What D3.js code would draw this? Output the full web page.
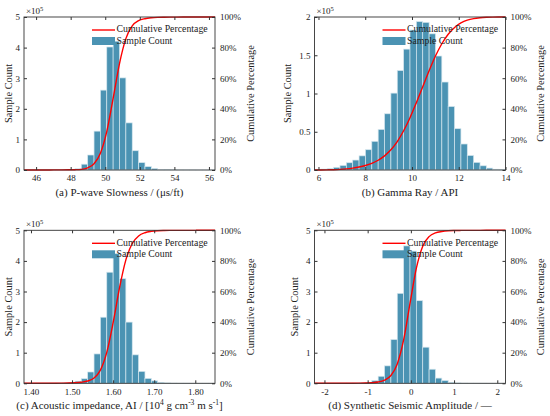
<!DOCTYPE html>
<html>
<head>
<meta charset="utf-8">
<script src="https://cdn.jsdelivr.net/npm/d3@7"></script>
<style>
  body { margin: 0; background: #fff; }
  svg text { font-family: "Liberation Serif", "Times New Roman", Times, "DejaVu Serif", serif; }
</style>
</head>
<body>
<div id="chart"></div>
<script>
// ---- data (counts in units of 1e5, 30 equal bins spanning the x range) ----
const slownessRange = [45.3, 56.35];
const slownessTicks = [46, 48, 50, 52, 54, 56];
const slownessCounts = [0.002, 0.002, 0.002, 0.003, 0.003, 0.004, 0.008, 0.015, 0.04, 0.19,
                        0.49, 1.27, 2.61, 4.02, 4.21, 3.01, 1.54, 0.63, 0.24, 0.11,
                        0.05, 0.02, 0.01, 0.005, 0.003, 0.002, 0.002, 0.001, 0.001, 0.001];

const gammaRange = [5.83, 14.0];
const gammaTicks = [6, 8, 10, 12, 14];
const gammaCounts = [0.008, 0.012, 0.018, 0.035, 0.06, 0.095, 0.13, 0.185, 0.265, 0.375,
                     0.53, 0.735, 1.005, 1.30, 1.58, 1.83, 1.94, 1.93, 1.78, 1.49,
                     1.15, 0.83, 0.54, 0.34, 0.19, 0.10, 0.055, 0.025, 0.01, 0.004];

const impedanceRange = [1.383, 1.848];
const impedanceTicks = [1.40, 1.50, 1.60, 1.70, 1.80];
const impedanceCounts = [0.002, 0.002, 0.002, 0.003, 0.004, 0.006, 0.012, 0.03, 0.07, 0.15,
                         0.37, 0.96, 2.16, 3.63, 4.24, 3.42, 2.0, 0.93, 0.39, 0.16,
                         0.08, 0.03, 0.012, 0.005, 0.003, 0.002, 0.001, 0.001, 0.001, 0.001];

const seismicRange = [-2.23, 2.19];
const seismicTicks = [-2, -1, 0, 1, 2];
const seismicCounts = [0.002, 0.002, 0.002, 0.002, 0.003, 0.004, 0.006, 0.012, 0.03, 0.09,
                       0.23, 0.57, 1.43, 2.94, 4.49, 4.32, 2.70, 1.18, 0.46, 0.17,
                       0.09, 0.03, 0.012, 0.005, 0.003, 0.002, 0.002, 0.001, 0.001, 0.001];

const countTicks5 = [0, 1, 2, 3, 4, 5];
const countTicks2 = [0, 0.5, 1, 1.5, 2];
const pctTicks = [0, 0.2, 0.4, 0.6, 0.8, 1];

// title pieces: [text, isSuperscript]
const titleA = [['(a) P-wave Slowness / (\u03bcs/ft)', false]];
const titleB = [['(b) Gamma Ray / API', false]];
const titleC = [['(c) Acoustic impedance, AI / [10', false], ['4', true], [' g cm', false],
                ['-3', true], [' m s', false], ['-1', true], [']', false]];
const titleD = [['(d) Synthetic Seismic Amplitude / \u2014', false]];

const panels = [
    { range: slownessRange, xTicks: slownessTicks, fmt: d3.format('d'), counts: slownessCounts,
      yMax: 5, yTicks: countTicks5, title: titleA, col: 0, row: 0 },
    { range: gammaRange, xTicks: gammaTicks, fmt: d3.format('d'), counts: gammaCounts,
      yMax: 2, yTicks: countTicks2, title: titleB, col: 1, row: 0 },
    { range: impedanceRange, xTicks: impedanceTicks, fmt: d3.format('.2f'), counts: impedanceCounts,
      yMax: 5, yTicks: countTicks5, title: titleC, col: 0, row: 1 },
    { range: seismicRange, xTicks: seismicTicks, fmt: d => d3.format('d')(d).replace('\u2212', '-'),
      counts: seismicCounts, yMax: 5, yTicks: countTicks5, title: titleD, col: 1, row: 1 }
];

// ---- layout ----
const W = 550, H = 416;
const colLeft = [24, 314.5];
const rowTop = [17, 230.3];
const pw = 191, ph = 153;
const barColor = '#4b93b3';
const axisColor = '#333';
const serif = '"Liberation Serif", "Times New Roman", Times, "DejaVu Serif", serif';

const svg = d3.select('#chart').append('svg')
    .attr('width', W)
    .attr('height', H)
    .attr('font-family', serif);

panels.forEach(p => {
    const left = colLeft[p.col];
    const top = rowTop[p.row];
    const g = svg.append('g').attr('transform', `translate(${left},${top})`);

    const x = d3.scaleLinear().domain(p.range).range([0, pw]);
    const y = d3.scaleLinear().domain([0, p.yMax]).range([ph, 0]);
    const yPct = d3.scaleLinear().domain([0, 1]).range([ph, 0]);

    // bins
    const binW = (p.range[1] - p.range[0]) / p.counts.length;
    const bins = p.counts.map((c, i) => ({
        x0: p.range[0] + i * binW,
        x1: p.range[0] + (i + 1) * binW,
        c: c
    }));

    g.selectAll('rect.bar')
        .data(bins)
        .join('rect')
        .attr('class', 'bar')
        .attr('x', d => x(d.x0))
        .attr('width', d => x(d.x1) - x(d.x0))
        .attr('y', d => y(d.c))
        .attr('height', d => y(0) - y(d.c))
        .attr('fill', barColor)
        .attr('stroke', '#d4e6ee')
        .attr('stroke-width', 0.7);

    // cumulative percentage from the bin counts
    const total = d3.sum(p.counts);
    const cum = d3.cumsum(p.counts);
    const cumPts = [[p.range[0], 0]].concat(bins.map((d, i) => [d.x1, cum[i] / total]));

    g.append('path')
        .datum(cumPts)
        .attr('fill', 'none')
        .attr('stroke', '#ff0000')
        .attr('stroke-width', 1.4)
        .attr('d', d3.line()
            .x(d => x(d[0]))
            .y(d => yPct(d[1]))
            .curve(d3.curveMonotoneX));

    // axes (inward ticks, MATLAB style)
    const styleAxis = sel => {
        sel.attr('font-family', serif);
        sel.select('.domain').remove();
        sel.selectAll('line').attr('stroke', axisColor);
        sel.selectAll('text')
            .attr('fill', '#222')
            .attr('font-size', '9px');
    };

    g.append('g')
        .attr('transform', `translate(0,${ph})`)
        .call(d3.axisBottom(x).tickValues(p.xTicks).tickFormat(p.fmt).tickSize(-3).tickPadding(5))
        .call(styleAxis);

    g.append('g')
        .call(d3.axisTop(x).tickValues(p.xTicks).tickFormat('').tickSize(-3))
        .call(styleAxis);

    const leftAxis = g.append('g')
        .call(d3.axisLeft(y).tickValues(p.yTicks).tickFormat(d3.format('')).tickSize(-3).tickPadding(4))
        .call(styleAxis);

    g.append('g')
        .attr('transform', `translate(${pw},0)`)
        .call(d3.axisRight(yPct).tickValues(pctTicks).tickFormat(d3.format('.0%')).tickSize(-3).tickPadding(5))
        .call(styleAxis);

    // box
    g.append('rect')
        .attr('width', pw)
        .attr('height', ph)
        .attr('fill', 'none')
        .attr('stroke', axisColor)
        .attr('stroke-width', 0.9);

    // x10^5 exponent label
    const expo = g.append('text')
        .attr('x', 2)
        .attr('y', -3)
        .attr('font-size', '9px')
        .attr('fill', '#222');
    expo.append('tspan').text('\u00d710');
    expo.append('tspan').attr('font-size', '6.5px').attr('dy', -3.5).text('5');

    // y labels (keep the left one clear of the page edge)
    const tickW = leftAxis.node().getBBox().width;
    const yLabelX = Math.max(-tickW - 7.5, -left + 9.5);
    g.append('text')
        .attr('transform', `translate(${yLabelX},${ph / 2}) rotate(-90)`)
        .attr('text-anchor', 'middle')
        .attr('dominant-baseline', 'middle')
        .attr('font-size', '10.4px')
        .attr('fill', '#222')
        .text('Sample Count');

    g.append('text')
        .attr('transform', `translate(${pw + 36.5},${ph / 2}) rotate(-90)`)
        .attr('text-anchor', 'middle')
        .attr('dominant-baseline', 'middle')
        .attr('font-size', '10.4px')
        .attr('fill', '#222')
        .text('Cumulative Percentage');

    // x title with optional superscripts
    const title = g.append('text')
        .attr('x', pw / 2)
        .attr('y', ph + 26)
        .attr('text-anchor', 'middle')
        .attr('font-size', '11px')
        .attr('fill', '#222');
    let raised = false;
    p.title.forEach(([t, sup]) => {
        const ts = title.append('tspan').text(t);
        if (sup && !raised) { ts.attr('dy', -4).attr('font-size', '7.5px'); raised = true; }
        else if (!sup && raised) { ts.attr('dy', 4); raised = false; }
        else if (sup) { ts.attr('font-size', '7.5px'); }
    });

    // legend (transparent, top right)
    const lx = pw - 123;
    g.append('line')
        .attr('x1', lx).attr('x2', lx + 23)
        .attr('y1', 13).attr('y2', 13)
        .attr('stroke', '#ff0000')
        .attr('stroke-width', 1.4);
    g.append('rect')
        .attr('x', lx).attr('y', 20)
        .attr('width', 23).attr('height', 8)
        .attr('fill', barColor);
    g.append('text')
        .attr('x', lx + 24.5).attr('y', 13)
        .attr('dominant-baseline', 'middle')
        .attr('font-size', '9.8px')
        .attr('fill', '#222')
        .text('Cumulative Percentage');
    g.append('text')
        .attr('x', lx + 24.5).attr('y', 24.5)
        .attr('dominant-baseline', 'middle')
        .attr('font-size', '9.8px')
        .attr('fill', '#222')
        .text('Sample Count');
});
</script>
</body>
</html>
